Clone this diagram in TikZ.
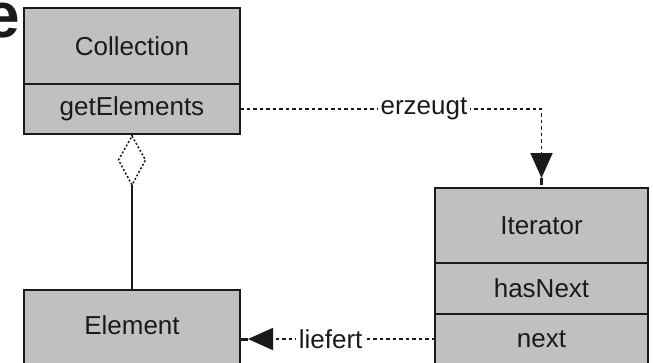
\documentclass[tikz,border=0pt]{standalone}
\usepackage{fontspec}
\setmainfont{Liberation Sans}
\usetikzlibrary{arrows.meta,calc}
\definecolor{boxgray}{HTML}{C0C0C0}
\definecolor{ink}{HTML}{1A1A1A}
\begin{document}
\begin{tikzpicture}[x=1pt,y=-1pt,
  box/.style={draw=ink, fill=boxgray, line width=2pt, inner sep=0pt, outer sep=0pt,
              font=\fontsize{26}{26}\selectfont, text=ink},
  txt/.style={font=\fontsize{26}{26}\selectfont, inner sep=0pt, text=ink},
  lbl/.style={font=\fontsize{26}{26}\selectfont, fill=white, inner xsep=3pt, inner ysep=0pt, text=ink},
  dots/.style={draw=ink, line width=1.8pt, dash pattern=on 3.5pt off 3pt},
  solidline/.style={draw=ink, line width=1.5pt},
  tip/.style={-{Triangle[length=25pt,width=22pt] Rectangle[length=7pt,width=3pt]}}
]
\useasboundingbox (0,0) rectangle (653,362);
\begin{scope}
\clip (0,0) rectangle (653,362);
% cut-off large letter
\node[font=\fontsize{64}{64}\selectfont\bfseries, inner sep=0pt, anchor=base east, text=ink] (bige) at (20,37) {e};

% Collection
\node[box, minimum width=216pt, minimum height=76pt] (coll) at (132,46) {Collection};
\node[box, minimum width=216pt, minimum height=50pt] (getel) at (132,109) {getElements};

% Element
\node[box, minimum width=216pt, minimum height=90pt] (elem) at (132,335) {};
\node[txt] (elemt) at (132,325) {Element};

% Iterator
\node[box, minimum width=213pt, minimum height=75pt] (iter) at (541.5,225.5) {Iterator};
\node[box, minimum width=213pt, minimum height=51pt] (hasn) at (541.5,288.5) {hasNext};
\node[box, minimum width=213pt, minimum height=66pt] (nextb) at (541.5,347) {};
\node[txt] (nextt) at (541.5,339) {next};

% aggregation diamond
\coordinate (dtop) at ($(getel.south)+(0,2)$);
\coordinate (dright) at ($(getel.south)+(13.5,26)$);
\coordinate (dbot) at ($(getel.south)+(0,51)$);
\coordinate (dleft) at ($(getel.south)+(-13.5,26)$);
\draw[solidline] (getel.south) -- (dtop);
\draw[dots, line width=1.5pt, dash pattern=on 2pt off 2pt] (dtop) -- (dright) -- (dbot) -- (dleft) -- cycle;
\draw[solidline] (elem.north) -- (dbot);

% erzeugt
\draw[dots, tip, shorten >=3pt] (getel.east) -| node[lbl, pos=0.305] {erzeugt} (iter.north);

% liefert
\draw[dots, tip, shorten >=1pt] (nextb.west |- nextt) -- node[lbl, pos=0.535] {liefert} (elem.east |- nextt);
\end{scope}
\end{tikzpicture}
\end{document}
